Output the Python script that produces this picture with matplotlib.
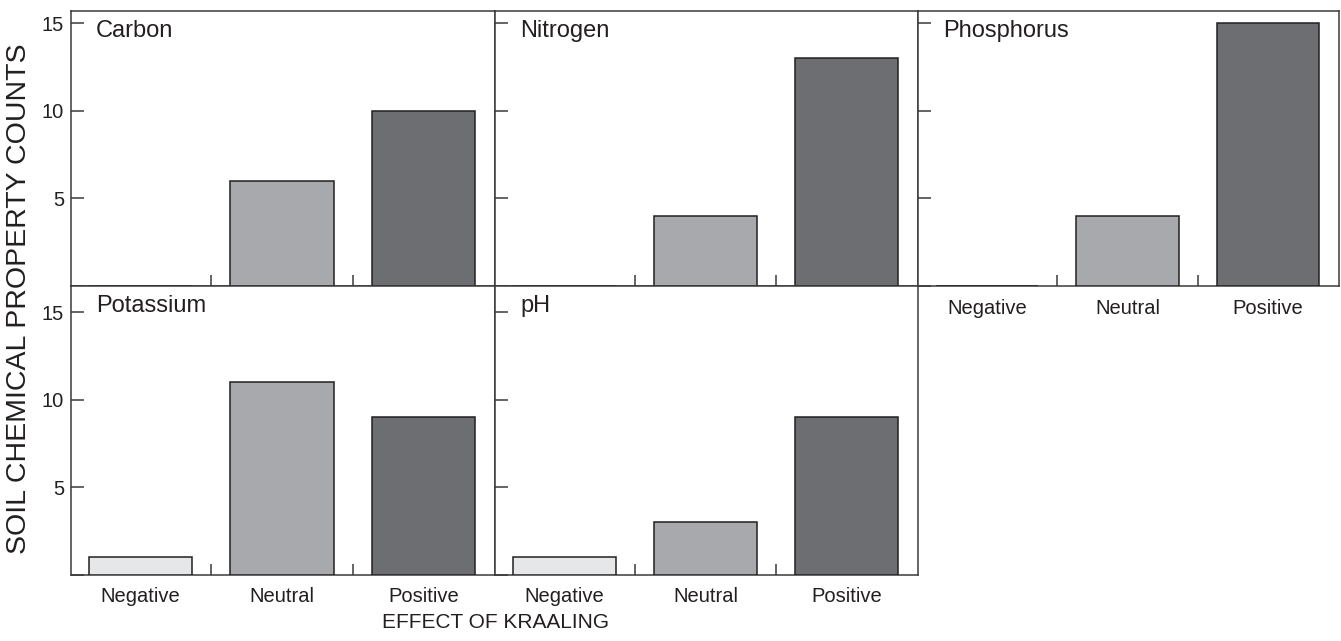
import matplotlib
matplotlib.use("Agg")
import matplotlib.pyplot as plt
from matplotlib.ticker import FixedLocator

plt.rcParams['font.family'] = ['Liberation Sans', 'DejaVu Sans']

categories = ['Negative', 'Neutral', 'Positive']
panel_names = ['Carbon', 'Nitrogen', 'Phosphorus', 'Potassium', 'pH']
carbon = [0, 6, 10]
nitrogen = [0, 4, 13]
phosphorus = [0, 4, 15]
potassium = [1, 11, 9]
ph = [1, 3, 9]
y_ticks = [0, 5, 10, 15]
y_tick_labels = ['', '5', '10', '15']

series = [carbon, nitrogen, phosphorus, potassium, ph]
bar_colors = ['#e6e7e8', '#a7a9ac', '#6d6e71']
edge = '#231f20'

W, H = 1341, 641
fig = plt.figure(figsize=(W / 100, H / 100), dpi=100)

col_edges = [71, 495, 918, 1339]
row_edges = [(11, 286), (286, 575)]
row_ylim = [15.7, 16.5]

for i, (name, vals) in enumerate(zip(panel_names, series)):
    r, c = divmod(i, 3)
    x0, x1 = col_edges[c], col_edges[c + 1]
    top, bot = row_edges[r]
    ax = fig.add_axes([x0 / W, 1 - bot / H, (x1 - x0) / W, (bot - top) / H])
    ax.bar(range(len(categories)), vals, width=0.73, color=bar_colors,
           edgecolor=edge, linewidth=1.1, zorder=3)
    ax.set_xlim(-0.49, 2.505)
    ax.set_ylim(0, row_ylim[r])
    for s in ax.spines.values():
        s.set_color('#3a3a3a')
        s.set_linewidth(1.1)
    ax.set_yticks(y_ticks)
    if c == 0:
        ax.set_yticklabels(y_tick_labels)
    else:
        ax.set_yticklabels([])
    ax.set_xticks(range(len(categories)))
    show_x = (r == 1) or (c == 2)
    ax.set_xticklabels(categories if show_x else [])
    ax.xaxis.set_minor_locator(FixedLocator([0.5, 1.5]))
    ax.tick_params(axis='x', which='major', length=0, pad=9,
                   labelsize=14.5, labelcolor='#231f20')
    ax.tick_params(axis='x', which='minor', direction='in', length=8,
                   width=1.1, color='#3a3a3a')
    ax.tick_params(axis='y', which='major', direction='in', length=9,
                   width=1.1, color='#3a3a3a', pad=5,
                   labelsize=14.5, labelcolor='#231f20')
    ax.text(25 / (x1 - x0), 1 - 20 / (bot - top), name,
            transform=ax.transAxes, ha='left', va='center',
            fontsize=17, color='#231f20')

fig.text(19 / W, 1 - 299 / H, 'SOIL CHEMICAL PROPERTY COUNTS', rotation=90,
         ha='center', va='center', fontsize=20.5, color='#231f20')
fig.text(495 / W, 1 - 623 / H, 'EFFECT OF KRAALING',
         ha='center', va='center', fontsize=15, color='#231f20')

fig.savefig('out.png', dpi=100)
